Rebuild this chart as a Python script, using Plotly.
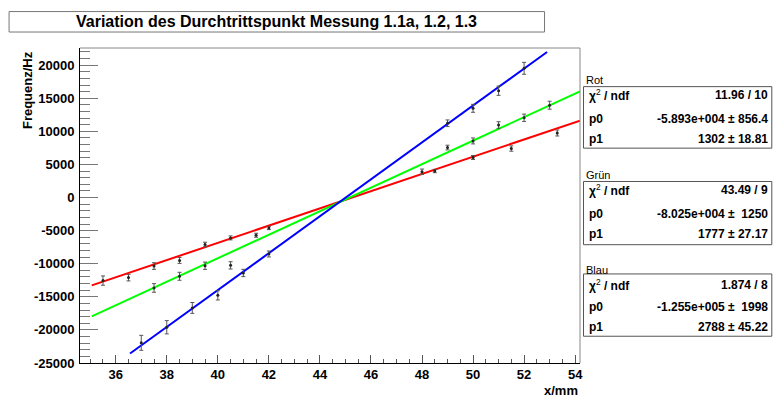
import plotly.graph_objects as go

# ---------------- data ----------------
red_x = [35.5, 36.5, 37.5, 38.5, 39.5, 40.5, 41.5, 42.0, 48.5, 50.0, 51.5, 53.3]
red_y = [-12550, -12100, -10350, -9500, -7100, -6100, -5700, -4600, 4000, 6050, 7400, 9750]
red_err = [700, 500, 500, 450, 350, 300, 300, 250, 250, 300, 400, 450]

green_x = [37.5, 38.5, 39.5, 40.5, 48.0, 49.0, 50.0, 51.0, 52.0, 53.0]
green_y = [-13660, -11900, -10300, -10250, 3900, 7550, 8550, 10950, 12050, 13950]
green_err = [650, 600, 550, 550, 400, 350, 450, 500, 550, 600]

blue_x = [37.0, 38.0, 39.0, 40.0, 41.0, 42.0, 49.0, 50.0, 51.0, 52.0]
blue_y = [-21950, -19600, -16680, -14780, -11400, -8530, 11220, 13480, 16140, 19520]
blue_err = [1130, 1000, 820, 700, 550, 450, 500, 600, 700, 900]

# fit lines (endpoints as drawn)
red_fit_x = [35.06, 54.19]
red_fit_y = [-13280, 11625]
green_fit_x = [35.06, 54.19]
green_fit_y = [-17950, 16045]
blue_fit_x = [36.56, 52.90]
blue_fit_y = [-23570, 21985]

title = "Variation des Durchtrittspunkt Messung 1.1a, 1.2, 1.3"
stat_names = ["Rot", "Grün", "Blau"]
stat_chi = ["11.96 / 10", "43.49 / 9", "1.874 / 8"]
stat_p0 = ["-5.893e+004 ± 856.4", "-8.025e+004 ±  1250", "-1.255e+005 ±  1998"]
stat_p1 = ["1302 ± 18.81", "1777 ± 27.17", "2788 ± 45.22"]

y_ticks = [-25000, -20000, -15000, -10000, -5000, 0, 5000, 10000, 15000, 20000]
x_ticks = [36, 38, 40, 42, 44, 46, 48, 50, 52, 54]

# ---------------- layout geometry ----------------
W, H = 774, 399
L, R, T, B = 80, 580.5, 48, 363.5

def px(x):
    return (x - L) / (R - L)

def py(y):
    return (B - y) / (B - T)

FONT = "Liberation Sans, Arial, Helvetica, sans-serif"

fig = go.Figure()

for fx, fy, col in [(red_fit_x, red_fit_y, "#ff0000"),
                    (green_fit_x, green_fit_y, "#00ff00"),
                    (blue_fit_x, blue_fit_y, "#0000ff")]:
    fig.add_trace(go.Scatter(x=fx, y=fy, mode="lines",
                             line=dict(color=col, width=2), showlegend=False,
                             hoverinfo="skip"))

for dx, dy, de in [(red_x, red_y, red_err), (green_x, green_y, green_err),
                   (blue_x, blue_y, blue_err)]:
    fig.add_trace(go.Scatter(x=dx, y=dy, mode="markers",
                             marker=dict(color="#222222", size=3),
                             error_y=dict(type="data", array=de, visible=True,
                                          color="#555555", thickness=1, width=2),
                             showlegend=False))

shapes = []
# frame top/right (grey)
shapes.append(dict(type="line", xref="paper", yref="paper", x0=0, x1=1, y0=1, y1=1,
                   line=dict(color="#888888", width=1)))
shapes.append(dict(type="line", xref="paper", yref="paper", x0=1, x1=1, y0=0, y1=1,
                   line=dict(color="#888888", width=1)))
# title box
shapes.append(dict(type="rect", xref="paper", yref="paper",
                   x0=px(9), x1=px(545), y0=py(32), y1=py(11.5),
                   line=dict(color="#777777", width=1), fillcolor="white"))

annotations = [dict(text="<b>" + title + "</b>", xref="paper", yref="paper",
                    x=px(277), y=py(21.5), showarrow=False, xanchor="center",
                    yanchor="middle", font=dict(family=FONT, size=16, color="black"))]

boxes = [(80, 86.7, 148.3, [95, 119.3, 139]),
         (175.7, 181.7, 245, [190, 214.3, 234]),
         (270, 274.3, 336.7, [285, 307.7, 327.7])]

for i, (ly, top, bot, rows) in enumerate(boxes):
    shapes.append(dict(type="rect", xref="paper", yref="paper",
                       x0=px(584), x1=px(772.5), y0=py(bot), y1=py(top),
                       line=dict(color="#555555", width=1), fillcolor="white"))
    annotations.append(dict(text=stat_names[i], xref="paper", yref="paper",
                            x=px(585), y=py(ly), showarrow=False, xanchor="left",
                            yanchor="middle", font=dict(family=FONT, size=11, color="black")))
    left_txt = ["<b>χ</b><sup>2</sup><b> / ndf</b>", "<b>p0</b>", "<b>p1</b>"]
    right_txt = [stat_chi[i], stat_p0[i], stat_p1[i]]
    for r, yy in enumerate(rows):
        annotations.append(dict(text=left_txt[r], xref="paper", yref="paper",
                                x=px(587.5), y=py(yy), showarrow=False, xanchor="left",
                                yanchor="middle", font=dict(family=FONT, size=12, color="black")))
        annotations.append(dict(text="<b>" + right_txt[r].replace(" ", "&nbsp;") + "</b>",
                                xref="paper", yref="paper",
                                x=px(771), y=py(yy), showarrow=False, xanchor="right",
                                yanchor="middle", font=dict(family=FONT, size=12, color="black")))

# axis titles
annotations.append(dict(text="<b>Frequenz/Hz</b>", xref="paper", yref="paper",
                        x=px(28), y=py(49), showarrow=False, textangle=-90,
                        xanchor="center", yanchor="top",
                        font=dict(family=FONT, size=13, color="black")))
annotations.append(dict(text="<b>x/mm</b>", xref="paper", yref="paper",
                        x=px(580), y=py(391), showarrow=False,
                        xanchor="right", yanchor="middle",
                        font=dict(family=FONT, size=13, color="black")))

fig.update_layout(
    width=W, height=H,
    margin=dict(l=L, r=W - R, t=T, b=H - B, pad=0),
    paper_bgcolor="white", plot_bgcolor="white",
    showlegend=False,
    shapes=shapes, annotations=annotations,
    xaxis=dict(range=[34.6, 54.19], tickvals=x_ticks, ticktext=[str(v) for v in x_ticks],
               ticks="inside", ticklen=8, tickcolor="#555555", showgrid=False,
               zeroline=False, showline=True, linecolor="black", linewidth=1,
               tickfont=dict(family=FONT, size=13, color="black", weight="bold"),
               minor=dict(dtick=0.5, tick0=36, ticks="inside", ticklen=4, tickcolor="#555555"),
               ticklabelstandoff=-1),
    yaxis=dict(range=[-25000, 22590], tickvals=y_ticks, ticktext=[str(v) for v in y_ticks],
               ticks="inside", ticklen=18, tickcolor="#777777", showgrid=False,
               zeroline=False, showline=True, linecolor="black", linewidth=1,
               tickfont=dict(family=FONT, size=13, color="black", weight="bold"),
               minor=dict(dtick=1000, tick0=0, ticks="inside", ticklen=10, tickcolor="#777777"),
               ticklabelstandoff=2),
)

fig.write_html("out.html")
